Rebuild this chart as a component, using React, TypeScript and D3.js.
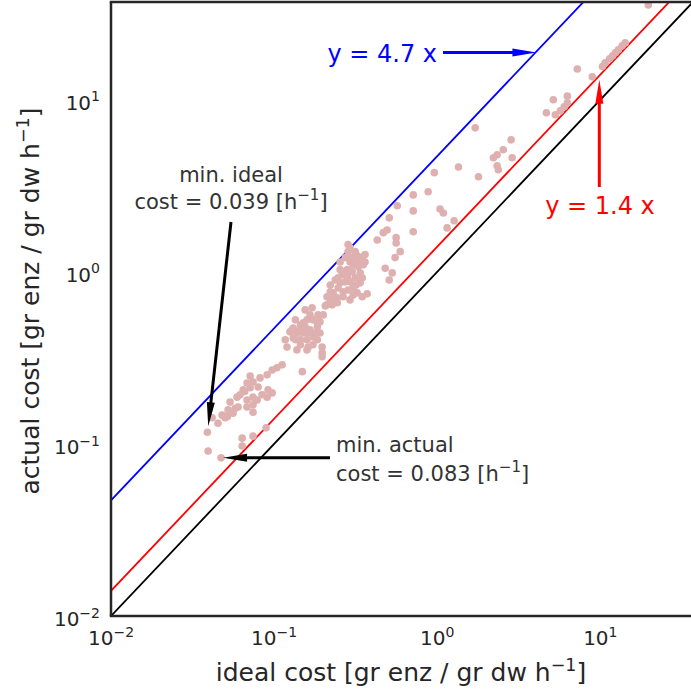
import React from "react";
import * as d3 from "d3";

// Ideal vs. actual enzyme cost per reaction [gr enz / gr dw h^-1]
const idealCost = [
  19.7, 14.2, 13.6, 12.9, 12.4, 11.9, 11.4, 10.7, 10.3, 7.23,
  8.93, 5.15, 6.28, 5.3, 5.69, 6.01, 6.28, 4.67, 1.71, 2.84,
  2.54, 2.33, 2.21, 2.88, 2.37, 2.33, 1.35, 1.79, 0.96, 0.88,
  0.713, 0.569, 0.713, 1.04, 1.09, 1.27, 1.15, 0.508, 0.467, 0.429,
  0.493, 0.56, 0.56, 0.713, 0.292, 0.593, 0.552, 0.48, 0.53, 0.508,
  0.372, 0.296, 0.323, 0.347, 0.361, 0.305, 0.327, 0.281, 0.301, 0.265,
  0.247, 0.237, 0.254, 0.273, 0.292, 0.314, 0.337, 0.347, 0.305, 0.284,
  0.323, 0.347, 0.265, 0.23, 0.221, 0.237, 0.221, 0.244, 0.206, 0.227,
  0.292, 0.284, 0.314, 0.261, 0.281, 0.155, 0.166, 0.173, 0.159, 0.145,
  0.131, 0.125, 0.138, 0.151, 0.166, 0.184, 0.191, 0.173, 0.159, 0.145,
  0.131, 0.184, 0.191, 0.197, 0.12, 0.162, 0.171, 0.23, 0.211, 0.244,
  0.305, 0.151, 0.184, 0.145, 0.159, 0.138, 0.197, 0.197, 0.159, 0.129,
  0.112, 0.104, 0.0973, 0.149, 0.0906, 0.082, 0.0713, 0.0682, 0.0743, 0.0798,
  0.0713, 0.0646, 0.0918, 0.0973, 0.0906, 0.0743, 0.0682, 0.0593, 0.0537, 0.0601,
  0.0682, 0.0743, 0.056, 0.0522, 0.05, 0.0453, 0.0417, 0.0516, 0.0743, 0.039,
  0.0394, 0.0473, 0.0637, 0.0743, 0.0637, 0.0893,
  0.254, 0.273, 0.327, 0.352, 0.247, 0.265, 0.292, 0.211, 0.254, 0.318,
  0.361, 0.221, 0.284, 0.314, 0.337,
  0.135, 0.155, 0.179, 0.145, 0.173, 0.186, 0.2, 0.136, 0.117,
  0.0618, 0.0843, 0.0787, 0.0577, 0.048, 0.066,
];
const actualCost = [
  35.6, 21.4, 20.6, 19.5, 18.8, 18.0, 17.3, 16.4, 15.6, 15.1,
  13.6, 10.0, 10.5, 8.18, 8.63, 9.1, 9.61, 8.4, 6.87, 5.85,
  5.12, 4.79, 4.6, 4.6, 3.92, 4.13, 4.07, 3.57, 3.77, 2.92,
  2.8, 2.42, 2.26, 2.32, 2.2, 1.98, 1.8, 2.06, 1.69, 1.53,
  1.75, 1.58, 1.47, 1.71, 1.38, 1.31, 1.21, 1.05, 0.986, 0.897,
  0.745, 1.21, 1.24, 1.22, 1.26, 1.1, 1.07, 1.03, 1.0, 0.962,
  0.923, 0.897, 0.863, 0.875, 0.875, 0.923, 0.986, 0.923, 0.807, 0.785,
  0.755, 0.716, 0.766, 0.755, 0.766, 0.706, 0.687, 0.661, 0.634, 0.643,
  1.14, 1.31, 1.17, 1.0, 0.935, 0.601, 0.562, 0.526, 0.526, 0.492,
  0.472, 0.448, 0.441, 0.441, 0.46, 0.479, 0.512, 0.419, 0.403, 0.403,
  0.413, 0.403, 0.441, 0.366, 0.366, 0.366, 0.618, 0.661, 0.643, 0.706,
  0.734, 0.505, 0.512, 0.46, 0.441, 0.352, 0.338, 0.321, 0.352, 0.46,
  0.288, 0.277, 0.269, 0.263, 0.252, 0.242, 0.248, 0.226, 0.229, 0.214,
  0.212, 0.206, 0.206, 0.198, 0.187, 0.187, 0.18, 0.187, 0.175, 0.164,
  0.164, 0.169, 0.151, 0.158, 0.142, 0.132, 0.142, 0.144, 0.153, 0.117,
  0.091, 0.083, 0.108, 0.111, 0.0973, 0.124,
  1.14, 1.21, 1.14, 1.1, 0.807, 0.716, 0.687, 0.716, 1.03, 0.839,
  1.14, 0.839, 1.44, 1.31, 0.863,
  0.526, 0.479, 0.441, 0.377, 0.377, 0.562, 0.562, 0.403, 0.403,
  0.193, 0.193, 0.18, 0.161, 0.147, 0.202,
];

// Reference lines y = k x
const refSlopes = [1, 1.4, 4.7];
const refColors = ["#000000", "#ff0000", "#0000ff"];

// Points on the reference lines that the slope labels point at
const blueLabelX = 4.0;
const redLabelX = 10;

const tickValues = [0.01, 0.1, 1, 10];
const tickExponents = ["\u22122", "\u22121", "0", "1"];
const axisDomain: [number, number] = [0.01, 37];

const W = 691;
const H = 693;
const LEFT = 111;
const TOP = 2;
const PW = 582;
const PH = 614;
const FONT = "'DejaVu Sans', sans-serif";
const INK = "#262626";
const DOT = "#dfb0b0";

function arrowPoints(x1: number, y1: number, x2: number, y2: number, shaft = 3, headLen = 24, headW = 8) {
  const dx = x2 - x1;
  const dy = y2 - y1;
  const L = Math.hypot(dx, dy);
  const ux = dx / L;
  const uy = dy / L;
  const nx = -uy;
  const ny = ux;
  const bx = x2 - ux * headLen;
  const by = y2 - uy * headLen;
  const s = shaft / 2;
  const h = headW / 2;
  const pts = [
    [x1 + nx * s, y1 + ny * s],
    [bx + nx * s, by + ny * s],
    [bx + nx * h, by + ny * h],
    [x2, y2],
    [bx - nx * h, by - ny * h],
    [bx - nx * s, by - ny * s],
    [x1 - nx * s, y1 - ny * s],
  ];
  return pts.map((p) => p.join(",")).join(" ");
}

function Pow10({ exp, size }: { exp: string; size: number }) {
  return (
    <>
      10
      <tspan dy={-size * 0.42} fontSize={size * 0.7}>
        {exp}
      </tspan>
    </>
  );
}

function UnitLabel({ prefix, size }: { prefix: string; size: number }) {
  return (
    <>
      {prefix} [gr enz / gr dw h
      <tspan dy={-size * 0.42} fontSize={size * 0.7}>
        {"\u22121"}
      </tspan>
      <tspan dy={size * 0.42}>]</tspan>
    </>
  );
}

export default function App() {
  const x = d3.scaleLog().domain(axisDomain).range([LEFT, LEFT + PW]);
  const y = d3.scaleLog().domain(axisDomain).range([TOP + PH, TOP]);

  const points = idealCost.map((v, i) => ({ ideal: v, actual: actualCost[i] }));
  const minIdealIdx = d3.minIndex(idealCost);
  const minActualIdx = d3.minIndex(actualCost);
  const fmt = d3.format(".3f");

  const line = d3
    .line<[number, number]>()
    .x((d) => x(d[0]))
    .y((d) => y(d[1]));

  // annotation anchors
  const bx = x(blueLabelX);
  const by = y(blueLabelX * 4.7);
  const rx = x(redLabelX);
  const ry = y(redLabelX * 1.4);
  const miX = x(idealCost[minIdealIdx]);
  const miY = y(actualCost[minIdealIdx]);
  const maX = x(idealCost[minActualIdx]);
  const maY = y(actualCost[minActualIdx]);

  return (
    <svg
      width={W}
      height={H}
      style={{ position: "absolute", left: 0, top: 0, background: "#fff" }}
      fontFamily={FONT}
    >
      <defs>
        <clipPath id="plot-clip">
          <rect x={LEFT} y={TOP} width={PW} height={PH} />
        </clipPath>
      </defs>
      <rect width={W} height={H} fill="#fff" />

      <g clipPath="url(#plot-clip)">
        {refSlopes.map((k, i) => (
          <path
            key={k}
            d={line([
              [axisDomain[0], axisDomain[0] * k],
              [axisDomain[1], axisDomain[1] * k],
            ]) || ""}
            stroke={refColors[i]}
            strokeWidth={1.8}
            fill="none"
          />
        ))}
        {points.map((p, i) => (
          <circle key={i} cx={x(p.ideal)} cy={y(p.actual)} r={3.8} fill={DOT} />
        ))}
      </g>

      {/* frame */}
      <g stroke={INK} strokeWidth={2.5} fill="none">
        <line x1={LEFT} y1={TOP} x2={LEFT} y2={TOP + PH} />
        <line x1={LEFT - 1.25} y1={TOP + PH} x2={LEFT + PW} y2={TOP + PH} />
        <line x1={LEFT - 1.25} y1={TOP} x2={LEFT + PW} y2={TOP} />
        <line x1={LEFT + PW} y1={TOP} x2={LEFT + PW} y2={TOP + PH} />
      </g>

      {/* tick labels */}
      <g fill={INK} fontSize={20}>
        {tickValues.map((t, i) => (
          <text key={"x" + t} x={x(t)} y={TOP + PH + 29} textAnchor="middle">
            <Pow10 exp={tickExponents[i]} size={20} />
          </text>
        ))}
        {tickValues.map((t, i) => (
          <text key={"y" + t} x={LEFT - 11} y={y(t) + 10} textAnchor="end">
            <Pow10 exp={tickExponents[i]} size={20} />
          </text>
        ))}
      </g>

      {/* axis titles */}
      <text x={LEFT + PW / 2 - 1} y={681} textAnchor="middle" fontSize={25} fill={INK}>
        <UnitLabel prefix="ideal cost" size={25} />
      </text>
      <text
        transform={`translate(39, 301) rotate(-90)`}
        textAnchor="middle"
        fontSize={25}
        fill={INK}
      >
        <UnitLabel prefix="actual cost" size={25} />
      </text>

      {/* slope annotations */}
      <text x={437} y={62} textAnchor="end" fontSize={24} fill="#0000ff">
        y = 4.7 x
      </text>
      <polygon points={arrowPoints(443, by, bx + 1, by)} fill="#0000ff" />

      <text x={600} y={214} textAnchor="middle" fontSize={24} fill="#ff0000">
        y = 1.4 x
      </text>
      <polygon points={arrowPoints(rx - 1, 187, rx - 1, ry + 5)} fill="#ff0000" />

      {/* minimum cost annotations */}
      <g fontSize={21} fill="#333">
        <text x={231} y={182} textAnchor="middle">
          min. ideal
        </text>
        <text x={231} y={209} textAnchor="middle">
          cost = {fmt(idealCost[minIdealIdx])} [h
          <tspan dy={-9} fontSize={15}>
            {"\u22121"}
          </tspan>
          <tspan dy={9}>]</tspan>
        </text>
        <text x={336} y={452}>
          min. actual
        </text>
        <text x={336} y={481}>
          cost = {fmt(actualCost[minActualIdx])} [h
          <tspan dy={-9} fontSize={15}>
            {"\u22121"}
          </tspan>
          <tspan dy={9}>]</tspan>
        </text>
      </g>
      <polygon points={arrowPoints(231, 222, miX + 0.8, miY - 6)} fill="#000" />
      <polygon points={arrowPoints(330, maY, maX + 2, maY)} fill="#000" />
    </svg>
  );
}
